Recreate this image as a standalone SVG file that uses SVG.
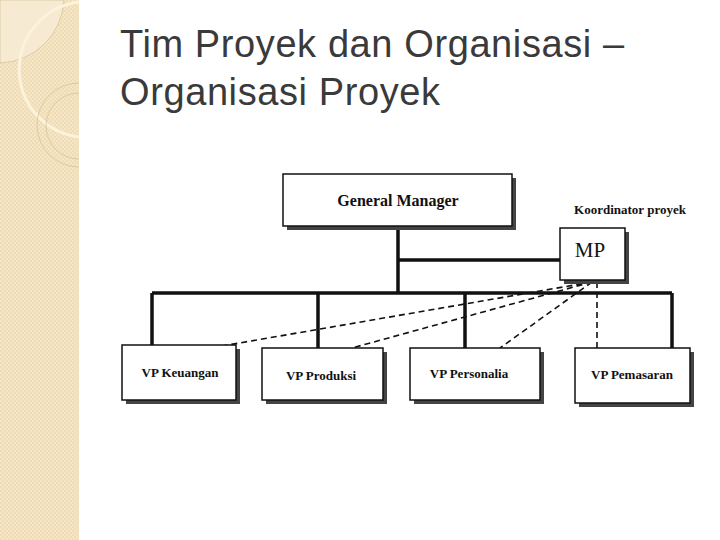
<svg xmlns="http://www.w3.org/2000/svg" width="720" height="540" viewBox="0 0 720 540">
<defs>
<pattern id="chk" width="4" height="4" patternUnits="userSpaceOnUse"><rect width="4" height="4" fill="#efdcb4"/><rect width="2" height="2" fill="#f5e6c8"/><rect x="2" y="2" width="2" height="2" fill="#f5e6c8"/></pattern>
</defs>
<style>
.box{fill:#fff;stroke:#111;stroke-width:1.5}
.sh{fill:#444}
.t{font-family:"Liberation Serif",serif;font-size:13px;font-weight:bold;fill:#111;text-anchor:middle}
.ln{stroke:#111;stroke-width:3.5;fill:none}
.dl{stroke:#111;stroke-width:1.6;stroke-dasharray:6,4;fill:none}
.ttl{font-family:"Liberation Sans",sans-serif;font-size:30px;fill:#3a3a3a}
</style>
<rect width="720" height="540" fill="#fff"/>
<g id="sidebar">
<rect width="79" height="540" fill="url(#chk)"/>
<path d="M0 63 A66 66 0 0 0 64 0 L0 0 Z" fill="#f6ead2" stroke="#d8c49a" stroke-width="0.8"/>
<path d="M79 2 A68 68 0 0 0 79 137" fill="none" stroke="#fbf3dc" stroke-width="3"/>
<path d="M79 83 A42 42 0 0 0 79 167" fill="none" stroke="#d8c49a" stroke-width="0.8"/>
<path d="M79 93 A33 33 0 0 0 79 159" fill="none" stroke="#d8c49a" stroke-width="0.8"/>
</g>
<text class="ttl" x="120" y="57" style="font-size:38px;letter-spacing:0.6px">Tim Proyek dan Organisasi –</text>
<text class="ttl" x="120" y="105" style="font-size:38px;letter-spacing:0.6px">Organisasi Proyek</text>
<g id="connectors">
<path class="ln" d="M398 226 V293 M398 260 H560 M152 293 H672 M152 293 V345 M318 293 V348 M465 293 V348 M672 293 V348"/>
<path class="dl" d="M592 282 L222 346 M592 282 L352 348 M592 282 L500 348 M597 282 V348"/>
</g>
<g id="gm"><rect class="sh" x="287" y="178" width="229" height="52"/><rect class="box" x="283" y="174" width="229" height="52"/><text class="t" x="398" y="206" style="font-size:16px">General Manager</text></g>
<text class="t" x="630" y="214" style="font-size:13px">Koordinator proyek</text>
<g id="mp"><rect class="sh" x="564" y="232" width="65" height="52"/><rect class="box" x="560" y="228" width="65" height="52"/><text class="t" x="590" y="257" style="font-size:21px;font-weight:normal">MP</text></g>
<g id="vp1"><rect class="sh" x="126" y="349" width="114" height="55"/><rect class="box" x="122" y="345" width="114" height="55"/><text class="t" x="180" y="377">VP Keuangan</text></g>
<g id="vp2"><rect class="sh" x="266" y="352" width="121" height="52"/><rect class="box" x="262" y="348" width="121" height="52"/><text class="t" x="321" y="380">VP Produksi</text></g>
<g id="vp3"><rect class="sh" x="414" y="352" width="130" height="52"/><rect class="box" x="410" y="348" width="130" height="52"/><text class="t" x="469" y="378">VP Personalia</text></g>
<g id="vp4"><rect class="sh" x="579" y="352" width="115" height="55"/><rect class="box" x="575" y="348" width="115" height="55"/><text class="t" x="632" y="379">VP Pemasaran</text></g>
</svg>
